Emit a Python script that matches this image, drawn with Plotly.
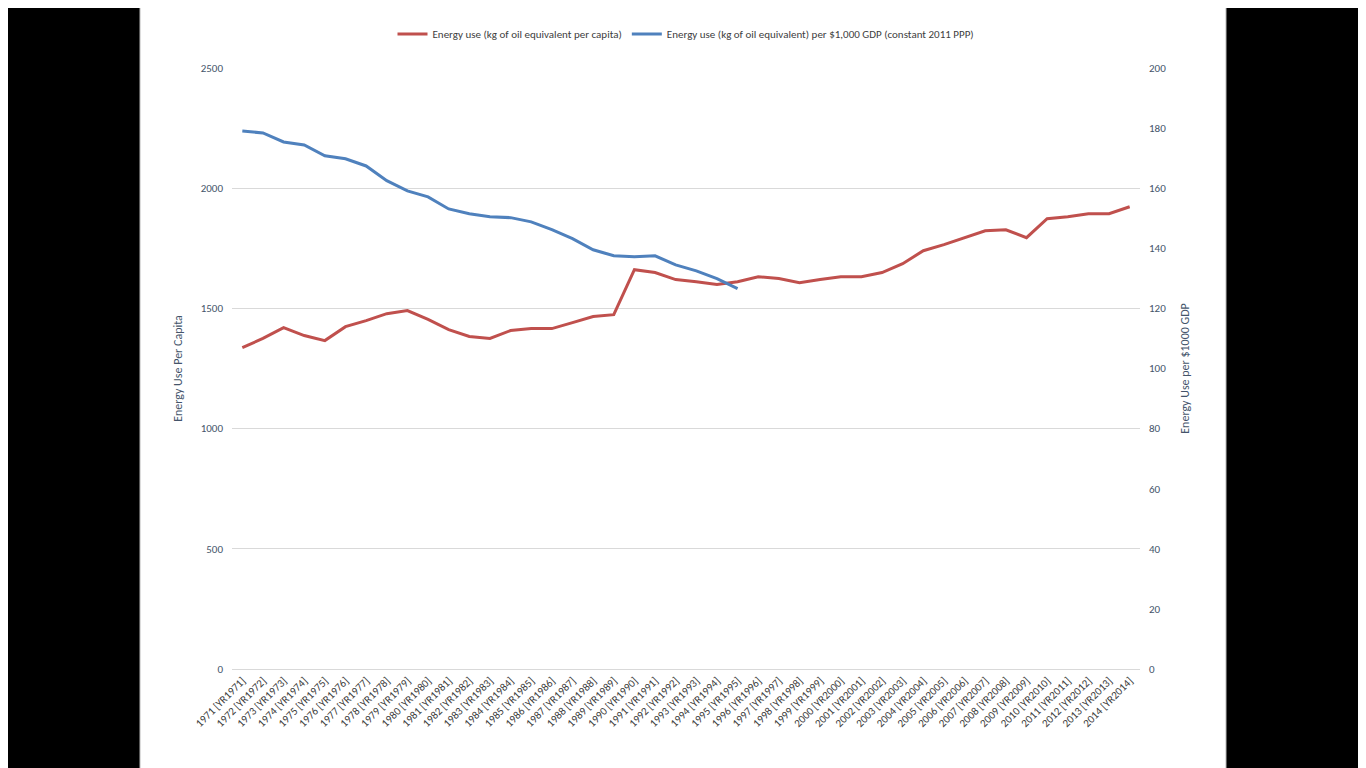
import plotly.graph_objects as go

years = list(range(1971, 2015))
categories = [f"{y} [YR{y}]" for y in years]

energy_per_capita = [
    1337, 1375, 1420, 1387, 1366, 1424, 1449, 1478, 1491, 1454,
    1412, 1383, 1375, 1408, 1416, 1416, 1441, 1466, 1474, 1661,
    1649, 1620, 1611, 1599, 1611, 1632, 1624, 1607, 1620, 1632,
    1632, 1649, 1686, 1740, 1765, 1794, 1823, 1827, 1794, 1873,
    1881, 1894, 1894, 1923,
]

energy_per_gdp = [
    179.0, 178.4, 175.4, 174.4, 170.8, 169.8, 167.4, 162.5, 159.1, 157.1,
    153.1, 151.5, 150.5, 150.2, 148.8, 146.2, 143.2, 139.5, 137.5, 137.2,
    137.5, 134.5, 132.5, 129.9, 126.6,
]

font = "Carlito, Liberation Sans, Arial"
axis_col = "#44546A"

fig = go.Figure()
fig.add_trace(go.Scatter(
    x=categories, y=energy_per_capita, mode="lines",
    name="Energy use (kg of oil equivalent per capita)",
    line=dict(color="#C0504D", width=3),
))
fig.add_trace(go.Scatter(
    x=categories[:len(energy_per_gdp)], y=energy_per_gdp, mode="lines",
    name="Energy use (kg of oil equivalent) per $1,000 GDP (constant 2011 PPP)",
    line=dict(color="#4F81BD", width=3), yaxis="y2",
))

# white page panel on a black background
fig.add_shape(type="rect", xref="paper", yref="paper", layer="below",
              x0=-0.1013, x1=1.0947, y0=-0.18, y1=1.111,
              fillcolor="white", line=dict(color="#BFBFBF", width=1))

fig.update_layout(
    width=1366, height=768,
    margin=dict(l=224, r=234, t=59, b=107),
    paper_bgcolor="black", plot_bgcolor="rgba(0,0,0,0)",
    font=dict(family=font, size=11, color="#595959"),
    showlegend=True,
    legend=dict(orientation="h", x=0.5, xanchor="center", y=1.055, yanchor="middle",
                font=dict(size=11, color="#404040"), bgcolor="rgba(0,0,0,0)"),
    xaxis=dict(tickangle=-45, showgrid=False, showline=True, linecolor="#D9D9D9",
               range=[-0.5, len(categories) - 0.5],
               ticks="", tickfont=dict(size=11, color="#404040")),
    yaxis=dict(range=[0, 2500], dtick=500, gridcolor="#D9D9D9", zeroline=False,
               title=dict(text="Energy Use Per Capita", font=dict(color=axis_col, size=12)),
               tickfont=dict(color=axis_col, size=11), ticklabelstandoff=8),
    yaxis2=dict(range=[0, 200], dtick=20, overlaying="y", side="right", showgrid=False,
                zeroline=False,
                title=dict(text="Energy Use per $1000 GDP", font=dict(color=axis_col, size=12)),
                tickfont=dict(color=axis_col, size=11), ticklabelstandoff=8),
)

fig.write_html("out.html")
